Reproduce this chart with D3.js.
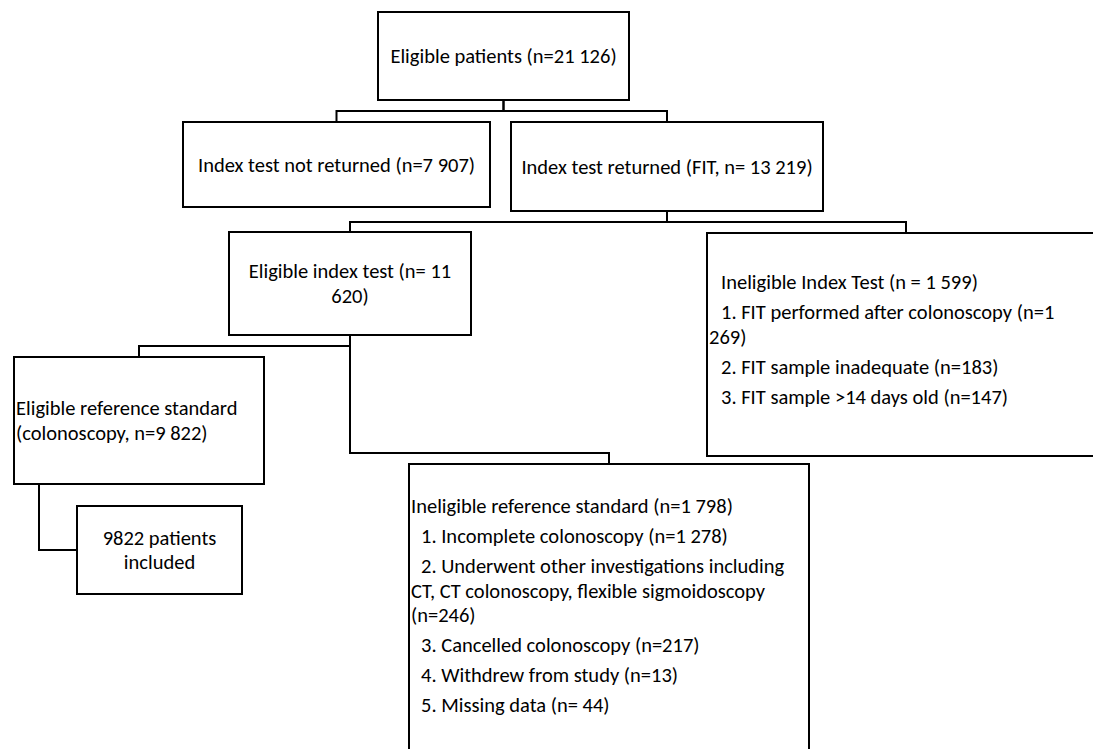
<!DOCTYPE html>
<html>
<head>
<meta charset="utf-8">
<script src="https://cdn.jsdelivr.net/npm/d3@7.9.0/dist/d3.min.js"></script>
<style>
  html, body { margin: 0; padding: 0; background: #fff; }
  svg { display: block; }
  text { font-family: Carlito, Lato, sans-serif; font-size: 20.5px; fill: #000; }
</style>
</head>
<body>
<svg id="chart" width="1093" height="749"></svg>
<script>
// box texts, as they are wrapped in the figure
const eligibleLines = ['Eligible patients (n=21 126)'];
const notReturnedLines = ['Index test not returned (n=7 907)'];
const returnedLines = ['Index test returned (FIT, n= 13 219)'];
const eligibleIndexLines = ['Eligible index test (n= 11', '620)'];
const eligibleRefLines = ['Eligible reference standard', '(colonoscopy, n=9 822)'];
const includedLines = ['9822 patients', 'included'];

const ineligibleIndexTitle = 'Ineligible Index Test (n = 1 599)';
const ineligibleIndexReasons = [
  ['1. FIT performed after colonoscopy (n=1', '269)'],
  ['2. FIT sample inadequate (n=183)'],
  ['3. FIT sample >14 days old (n=147)']
];

const ineligibleRefTitle = 'Ineligible reference standard (n=1 798)';
const ineligibleRefReasons = [
  ['1. Incomplete colonoscopy (n=1 278)'],
  ['2. Underwent other investigations including', 'CT, CT colonoscopy, flexible sigmoidoscopy', '(n=246)'],
  ['3. Cancelled colonoscopy (n=217)'],
  ['4. Withdrew from study (n=13)'],
  ['5. Missing data (n= 44)']
];

// layout
const boxes = {
  eligible:        { x: 378, y: 12,  w: 251, h: 88 },
  notReturned:     { x: 183, y: 122, w: 307, h: 85 },
  returned:        { x: 511, y: 122, w: 312, h: 89 },
  eligibleIndex:   { x: 229, y: 232, w: 242, h: 103 },
  ineligibleIndex: { x: 707, y: 233, w: 398, h: 223 },
  eligibleRef:     { x: 14,  y: 357, w: 250, h: 127 },
  included:        { x: 77,  y: 506, w: 165, h: 88 },
  ineligibleRef:   { x: 409, y: 464, w: 400, h: 320 }
};

const links = [
  ['eligible', 'notReturned', 111],
  ['eligible', 'returned', 111],
  ['returned', 'eligibleIndex', 222],
  ['returned', 'ineligibleIndex', 222],
  ['eligibleIndex', 'eligibleRef', 346],
  ['eligibleIndex', 'ineligibleRef', 453]
];

const lineH = 24.7;     // wrapped line
const paraH = 30;       // between paragraphs
const capShift = 7;

const svg = d3.select('#chart');
const line = d3.line();
const cx = b => b.x + b.w / 2;
const cy = b => b.y + b.h / 2;

// elbow connectors
links.forEach(([from, to, midY]) => {
  const a = boxes[from], b = boxes[to];
  svg.append('path')
    .attr('d', line([[cx(a), a.y + a.h], [cx(a), midY], [cx(b), midY], [cx(b), b.y]]))
    .attr('fill', 'none')
    .attr('stroke', '#000')
    .attr('stroke-width', 2);
});

// side connector to the included box
{
  const a = boxes.eligibleRef, b = boxes.included;
  svg.append('path')
    .attr('d', line([[39, a.y + a.h], [39, cy(b)], [b.x, cy(b)]]))
    .attr('fill', 'none')
    .attr('stroke', '#000')
    .attr('stroke-width', 2);
}

// boxes
svg.selectAll('rect.box')
  .data(Object.values(boxes))
  .join('rect')
  .attr('class', 'box')
  .attr('x', d => d.x)
  .attr('y', d => d.y)
  .attr('width', d => d.w)
  .attr('height', d => d.h)
  .attr('fill', '#fff')
  .attr('stroke', '#000')
  .attr('stroke-width', 2);

// one <text> per box, one <tspan> per line
function blockText(box, lines, align) {
  const n = lines.length;
  const x = align === 'left' ? box.x + 2 : cx(box);
  svg.append('text')
    .attr('text-anchor', align === 'left' ? 'start' : 'middle')
    .selectAll('tspan')
    .data(lines)
    .join('tspan')
    .attr('x', x)
    .attr('y', (d, i) => cy(box) + (i - (n - 1) / 2) * lineH + capShift)
    .text(d => d);
}

blockText(boxes.eligible, eligibleLines, 'center');
blockText(boxes.notReturned, notReturnedLines, 'center');
blockText(boxes.returned, returnedLines, 'center');
blockText(boxes.eligibleIndex, eligibleIndexLines, 'center');
blockText(boxes.eligibleRef, eligibleRefLines, 'left');
blockText(boxes.included, includedLines, 'center');

function listText(box, title, reasons, padTop, titleIndent, itemIndent) {
  const x0 = box.x + 2;
  const rows = [{ text: title, dx: titleIndent, y: box.y + padTop }];
  let y = box.y + padTop;
  reasons.forEach(para => {
    para.forEach((t, i) => {
      y += i === 0 ? paraH : lineH;
      rows.push({ text: t, dx: i === 0 ? itemIndent : 0, y });
    });
  });
  svg.append('text')
    .selectAll('tspan')
    .data(rows)
    .join('tspan')
    .attr('x', d => x0 + d.dx)
    .attr('y', d => d.y)
    .text(d => d.text);
}

listText(boxes.ineligibleIndex, ineligibleIndexTitle, ineligibleIndexReasons, 56, 12, 12);
listText(boxes.ineligibleRef, ineligibleRefTitle, ineligibleRefReasons, 49, 0, 10);
</script>
</body>
</html>
